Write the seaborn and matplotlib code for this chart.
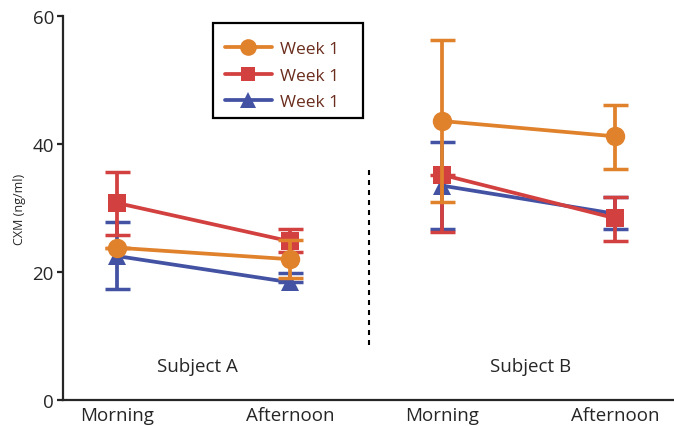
import numpy as np
import pandas as pd
import matplotlib
matplotlib.use("Agg")
import matplotlib.pyplot as plt
import seaborn as sns
from matplotlib.lines import Line2D
from matplotlib.patches import Rectangle

# x positions of the four time points (Subject A morning/afternoon, Subject B morning/afternoon)
x_pos = [0.0, 1.0, 1.88, 2.88]
tick_labels = ["Morning", "Afternoon", "Morning", "Afternoon"]
subjects = ["A", "A", "B", "B"]

series_names = ["orange", "red", "blue"]
legend_labels = ["Week 1", "Week 1", "Week 1"]
means = {
    "orange": [23.8, 22.0, 43.6, 41.2],
    "red":    [30.8, 24.8, 35.2, 28.4],
    "blue":   [22.5, 18.4, 33.5, 29.1],
}
upper = {
    "orange": [23.8, 25.0, 56.2, 46.1],
    "red":    [35.7, 26.7, 35.2, 31.8],
    "blue":   [27.8, 19.8, 40.3, 31.8],
}
lower = {
    "orange": [23.8, 19.0, 31.0, 36.1],
    "red":    [25.8, 23.2, 26.2, 24.9],
    "blue":   [17.3, 18.4, 26.7, 26.7],
}

colors = {"orange": "#E0812C", "red": "#D2403F", "blue": "#4352A3"}
markers = {"orange": "o", "red": "s", "blue": "^"}
msize = {"orange": 14, "red": 12.5, "blue": 13}
zord = {"blue": 3, "red": 4, "orange": 5}

rows = []
for s in series_names:
    for i in range(4):
        rows.append({"series": s, "subject": subjects[i], "x": x_pos[i],
                     "value": means[s][i], "lo": lower[s][i], "hi": upper[s][i]})
df = pd.DataFrame(rows)

sns.set_style("ticks")
plt.rcParams["font.family"] = ["Open Sans", "DejaVu Sans"]

fig = plt.figure(figsize=(6.74, 4.27), dpi=100)
ax = fig.add_axes([0.0935, 0.061, 0.9065, 0.899])

for s in ["blue", "red", "orange"]:
    d = df[df["series"] == s]
    for subj, g in d.groupby("subject"):
        ax.errorbar(g["x"], g["value"],
                    yerr=[g["value"] - g["lo"], g["hi"] - g["value"]],
                    fmt="none", ecolor=colors[s], elinewidth=2.7, capsize=9,
                    capthick=2.5, zorder=zord[s])
        sns.lineplot(data=g, x="x", y="value", color=colors[s], marker=markers[s],
                     markersize=msize[s], markeredgewidth=0, linewidth=2.7,
                     ax=ax, zorder=zord[s], legend=False)

ax.plot([1.457, 1.457], [8.6, 36.1], color="black", linestyle=(0, (2.4, 2.4)), linewidth=1.5)
ax.text(0.465, 5.3, "Subject A", ha="center", va="center", fontsize=13.5)
ax.text(2.39, 5.3, "Subject B", ha="center", va="center", fontsize=13.5)

ax.set_xlim(-0.31, 3.22)
ax.set_ylim(0, 60)
ax.set_xticks(x_pos)
ax.set_xticklabels(tick_labels, fontsize=13.5)
ax.set_yticks([0, 20, 40, 60])
ax.set_yticklabels(["0", "20", "40", "60"], fontsize=13.5)
ax.tick_params(axis="x", length=0, pad=4.5)
ax.tick_params(axis="y", length=4.5, width=1.6, pad=2)
ax.set_xlabel("")
ax.set_ylabel("CXM (ng/ml)", fontsize=9, labelpad=5)
sns.despine(ax=ax)
for sp in ["left", "bottom"]:
    ax.spines[sp].set_linewidth(1.6)

# legend box drawn separately so its padding matches the original
ax.add_patch(Rectangle((0.2455, 0.734), 0.2455, 0.248, transform=ax.transAxes,
                       facecolor="white", edgecolor="black", linewidth=1.6,
                       zorder=6, clip_on=False))
handles = [Line2D([0], [0], color=colors[s], marker=markers[s], markersize=msize[s] - 2,
                  markeredgewidth=0, linewidth=2.7) for s in series_names]
leg = ax.legend(handles, legend_labels, loc="upper left", bbox_to_anchor=(0.265, 0.935),
                frameon=False, fontsize=12.5, handlelength=2.7,
                borderpad=0, labelspacing=0.59, handletextpad=0.46, borderaxespad=0)
leg.set_zorder(7)
for t in leg.get_texts():
    t.set_color("#6B2E1E")

fig.savefig("out.png", dpi=100)
